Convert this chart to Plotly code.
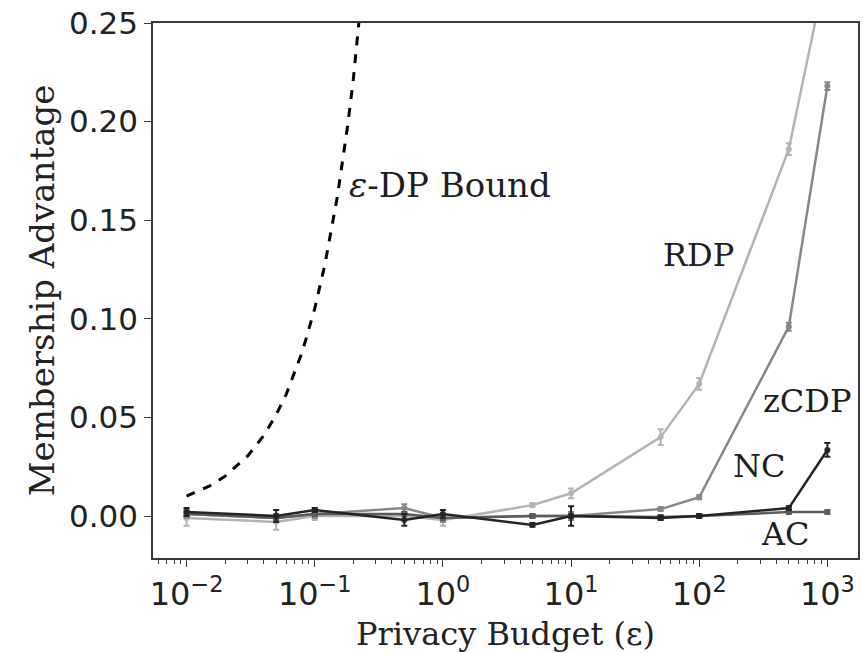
import math
import plotly.graph_objects as go

eps = [0.01, 0.05, 0.1, 0.5, 1, 5, 10, 50, 100, 500, 1000]

rdp = [-0.001, -0.003, 0.000, 0.000, -0.002, 0.0055, 0.0115, 0.040, 0.067, 0.186, 0.280]
rdp_err = [0.004, 0.004, 0.002, 0.002, 0.003, 0.001, 0.0025, 0.004, 0.003, 0.003, 0.003]

zcdp = [0.001, -0.001, 0.001, 0.004, -0.001, 0.000, 0.000, 0.0035, 0.0095, 0.096, 0.218]
zcdp_err = [0.002, 0.002, 0.002, 0.002, 0.002, 0.001, 0.002, 0.001, 0.001, 0.002, 0.002]

nc = [0.002, 0.000, 0.003, -0.002, 0.001, -0.0045, 0.000, -0.001, 0.000, 0.004, 0.0335]
nc_err = [0.002, 0.003, 0.001, 0.003, 0.002, 0.001, 0.005, 0.001, 0.001, 0.001, 0.0035]

ac = [0.001, -0.001, 0.001, 0.001, -0.001, 0.000, 0.000, -0.0005, 0.000, 0.002, 0.002]
ac_err = [0.001, 0.001, 0.001, 0.001, 0.001, 0.001, 0.001, 0.001, 0.001, 0.001, 0.001]

bound_eps = [0.01, 0.015, 0.02, 0.03, 0.04, 0.05, 0.06, 0.08, 0.1, 0.12, 0.15, 0.18, 0.2, 0.23, 0.26]
bound_adv = [0.0101, 0.0151, 0.0202, 0.0305, 0.0408, 0.0513, 0.0618, 0.0833, 0.1052, 0.1275, 0.1618, 0.1972, 0.2214, 0.2586, 0.2969]

series = [
    ("RDP", rdp, rdp_err, "#b4b4b4", "circle"),
    ("zCDP", zcdp, zcdp_err, "#878787", "circle"),
    ("AC", ac, ac_err, "#5c5c5c", "circle"),
    ("NC", nc, nc_err, "#242424", "circle"),
]

x_tickvals = [0.01, 0.1, 1, 10, 100, 1000]
x_ticktext = ["10<sup>\u22122</sup>", "10<sup>\u22121</sup>", "10<sup>0</sup>",
              "10<sup>1</sup>", "10<sup>2</sup>", "10<sup>3</sup>"]
y_tickvals = [0.0, 0.05, 0.10, 0.15, 0.20, 0.25]

labels = [
    ("<i>\u03b5</i>-DP Bound", 1.14, 0.168, 34),
    ("RDP", 99, 0.1325, 32),
    ("zCDP", 697, 0.0585, 32),
    ("NC", 295, 0.0255, 32),
    ("AC", 470, -0.0092, 32),
]

fig = go.Figure()

fig.add_trace(go.Scatter(
    x=bound_eps, y=bound_adv, mode="lines",
    line=dict(color="black", width=3, dash="dash"),
    showlegend=False, hoverinfo="skip"))

for name, vals, errs, color, sym in series:
    fig.add_trace(go.Scatter(
        x=eps, y=vals, mode="lines+markers", name=name,
        line=dict(color=color, width=2.5),
        marker=dict(color=color, size=6, symbol=sym),
        error_y=dict(type="data", array=errs, visible=True, color=color,
                     thickness=2, width=3),
        showlegend=False))

for text, lx, ly, fs in labels:
    fig.add_annotation(x=math.log10(lx), y=ly, xref="x", yref="y", text=text, showarrow=False,
                       font=dict(family="DejaVu Serif", size=fs, color="#1e1e1e"),
                       xanchor="center", yanchor="middle")

axis_line = dict(showline=True, linecolor="#3a3a3a", linewidth=1.6, mirror=True,
                 showgrid=False, zeroline=False, ticks="outside", tickcolor="#3a3a3a",
                 tickwidth=1.3, ticklen=7)

fig.update_xaxes(type="log", range=[-2.262, 3.239],
                 tickvals=x_tickvals, ticktext=x_ticktext,
                 tickfont=dict(family="DejaVu Sans", size=32, color="#222"),
                 title=dict(text="Privacy Budget (\u03b5)",
                            font=dict(family="DejaVu Serif", size=32, color="#222"),
                            standoff=10),
                 minor=dict(ticks="outside", ticklen=4, tickcolor="#3a3a3a", tickwidth=1,
                            dtick="D1", showgrid=False),
                 **axis_line)

fig.update_yaxes(range=[-0.0213, 0.25], tickvals=y_tickvals, tickformat=".2f",
                 tickfont=dict(family="DejaVu Sans", size=31, color="#222"),
                 title=dict(text="Membership Advantage",
                            font=dict(family="DejaVu Serif", size=34, color="#222"),
                            standoff=4),
                 **axis_line)

fig.update_layout(width=863, height=653,
                  margin=dict(l=153, r=3, t=23, b=95),
                  paper_bgcolor="white", plot_bgcolor="white")

fig.write_html("out.html")
